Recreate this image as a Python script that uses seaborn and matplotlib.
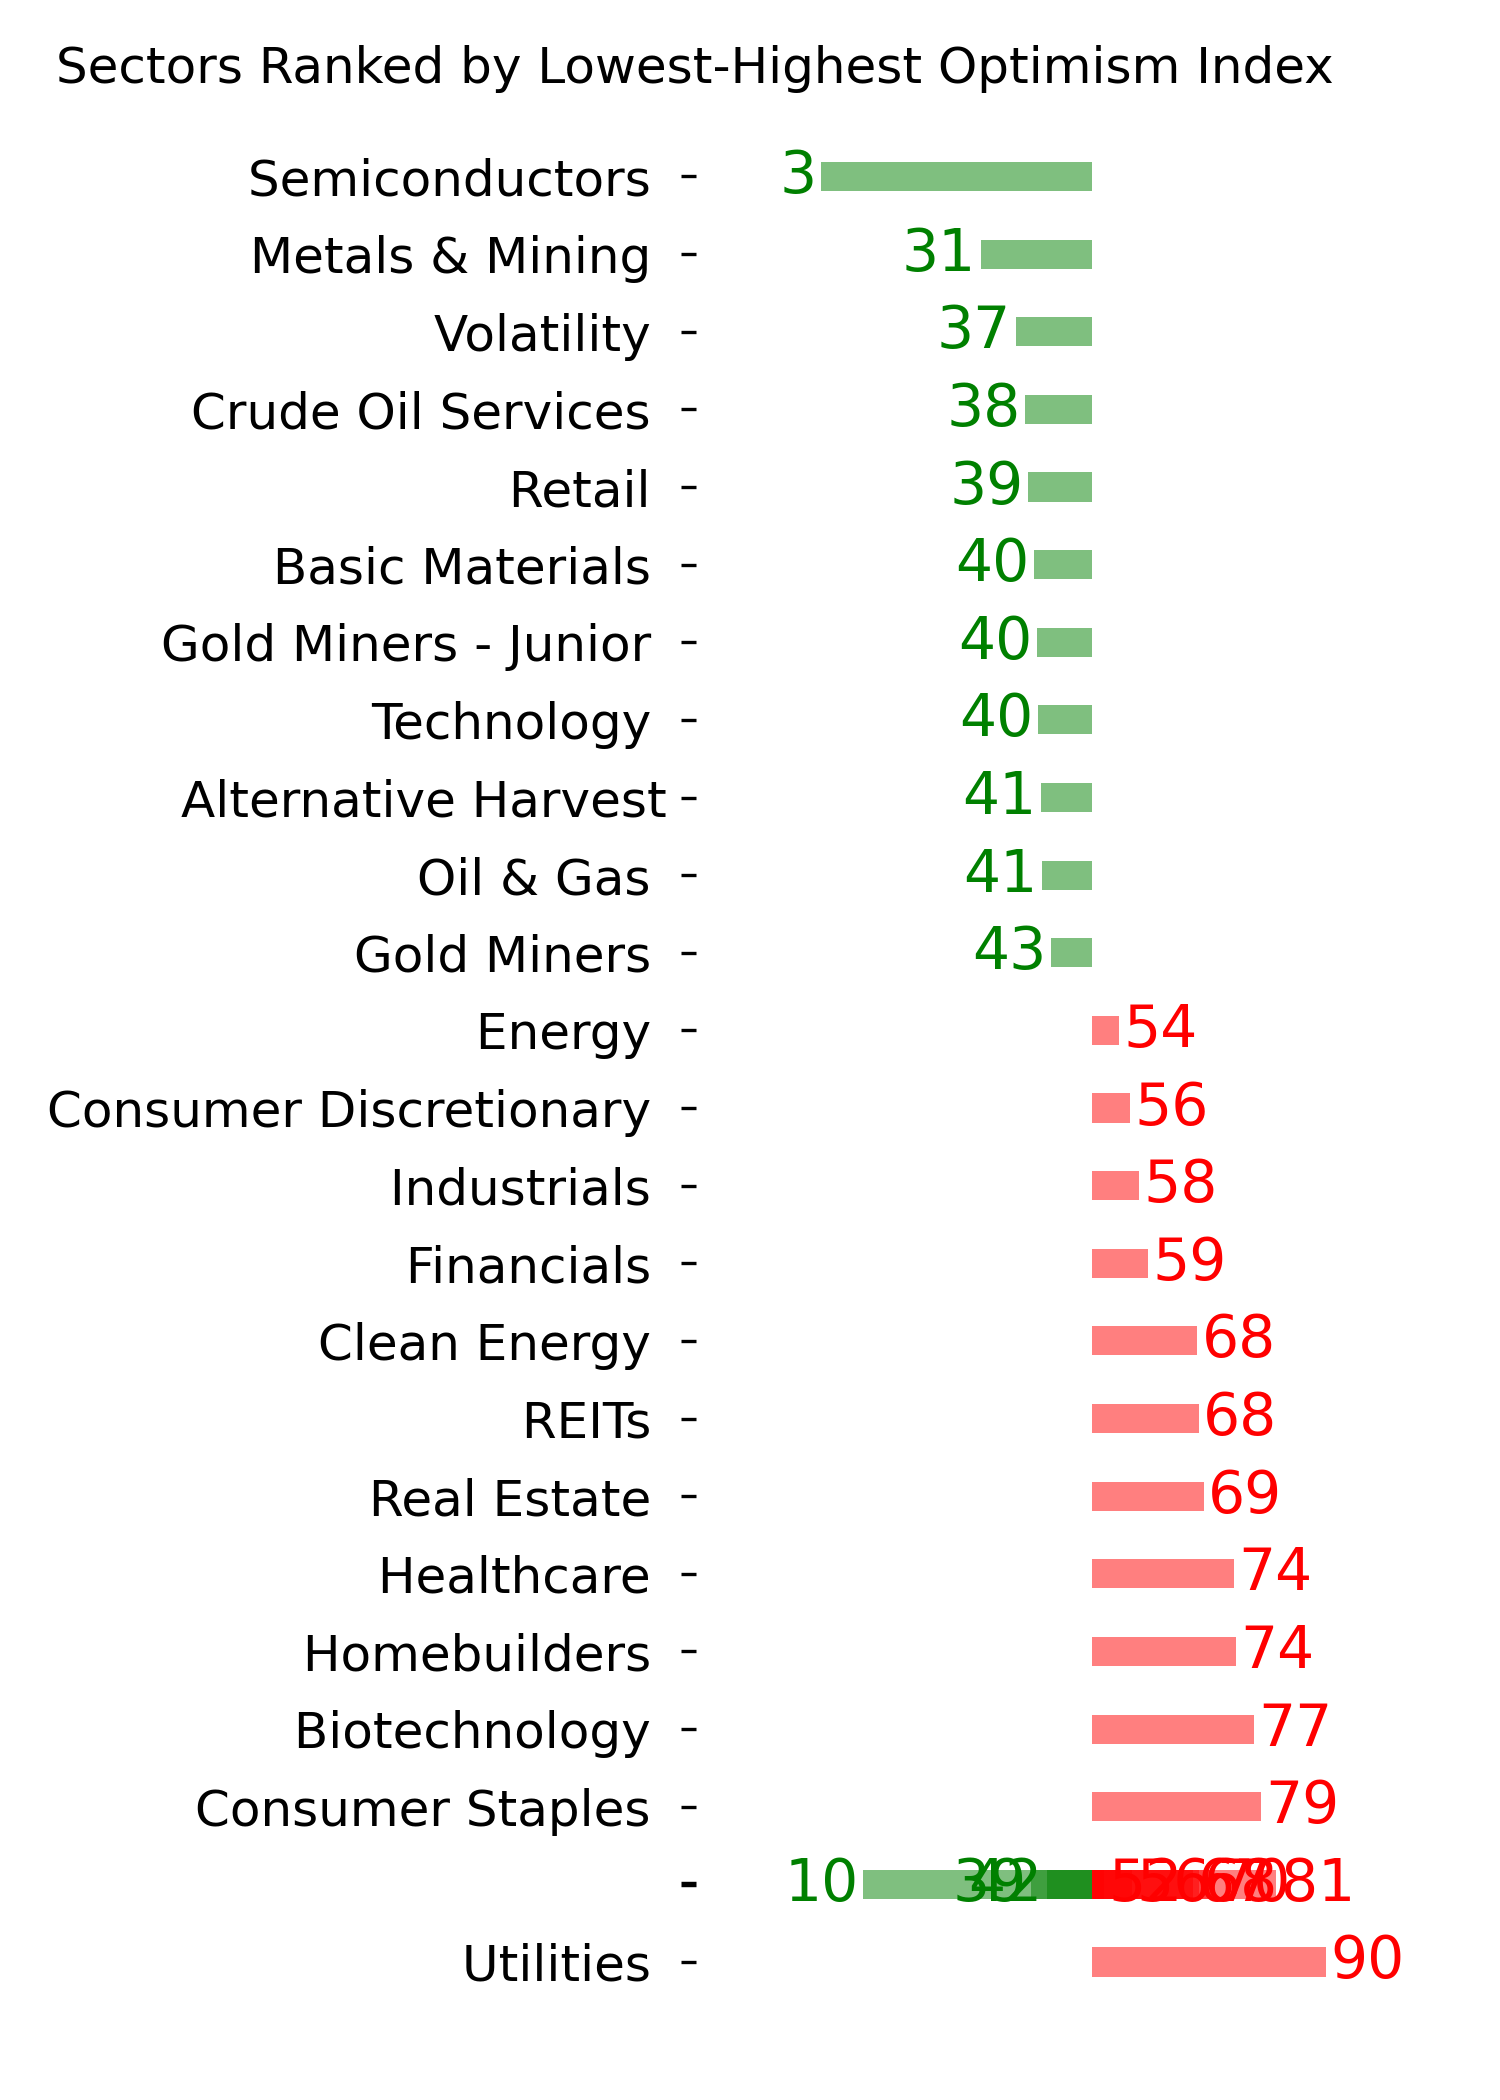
import matplotlib
matplotlib.use("Agg")
import matplotlib.pyplot as plt
import pandas as pd
import seaborn as sns

TITLE = "Sectors Ranked by Lowest-Highest Optimism Index"
NEUTRAL = 50

# ── named sectors, top to bottom (labels keep the source's trailing space) ──
SECTORS = [
    "Semiconductors ", "Metals & Mining ", "Volatility ", "Crude Oil Services ",
    "Retail ", "Basic Materials ", "Gold Miners - Junior ", "Technology ",
    "Alternative Harvest", "Oil & Gas ", "Gold Miners ", "Energy ",
    "Consumer Discretionary ", "Industrials ", "Financials ", "Clean Energy ",
    "REITs ", "Real Estate ", "Healthcare ", "Homebuilders ",
    "Biotechnology ", "Consumer Staples ", "Utilities ",
]
SCORES = [
    3.57, 31.0, 37.0, 38.63,
    39.14, 40.07, 40.69, 40.86,
    41.37, 41.55, 43.09, 54.73,
    56.56, 58.16, 59.66, 68.08,
    68.42, 69.28, 74.43, 74.78,
    77.87, 79.07, 90.29,
]

# ── entries with no name: they all land on one blank row ──
BLANK_SCORES = [10.74, 39.6, 42.35, 52.15, 56.96, 67.4, 68.5, 70.7, 81.7]

ROW_ORDER = SECTORS[:22] + [""] + SECTORS[22:]

names = SECTORS + [""] * len(BLANK_SCORES)
scores = SCORES + BLANK_SCORES
df = pd.DataFrame({"sector": names, "score": scores})
df["delta"] = df["score"] - NEUTRAL
df["uid"] = [f"b{i}" for i in range(len(df))]
palette = {u: ("green" if s < NEUTRAL else "red") for u, s in zip(df["uid"], df["score"])}

fig = plt.figure(figsize=(5, 7), dpi=300)
ax = fig.add_axes([696 / 1500, 0.04724, 1 - 696 / 1500, 0.8872])

sns.barplot(
    data=df, x="delta", y="sector", hue="uid", order=ROW_ORDER,
    hue_order=list(df["uid"]), palette=palette, dodge=False, saturation=1,
    alpha=0.5, width=0.375, errorbar=None, legend=False, linewidth=0,
    orient="h", ax=ax,
)

for name, s in zip(names, scores):
    y = ROW_ORDER.index(name)
    d = s - NEUTRAL
    if d < 0:
        ax.text(d - 0.8, y, str(int(s)), ha="right", va="center",
                color="green", fontsize=14)
    else:
        ax.text(d + 0.8, y, str(int(s)), ha="left", va="center",
                color="red", fontsize=14)

ax.set_xlim(-67.96, 70.19)
ax.set_xticks([])
ax.set_xlabel("")
ax.set_ylabel("")
ax.tick_params(axis="y", labelsize=12)
for side in ["top", "right", "bottom", "left"]:
    ax.spines[side].set_visible(False)
# the blank row carries nine stacked ticks in the source, so it looks heavier
ax.yaxis.get_major_ticks()[22].tick1line.set_markeredgewidth(1.3)

fig.text(0.463, 1 - 83 / 2100, TITLE, ha="center", va="baseline", fontsize=12)

fig.savefig("out.png", dpi=300)
